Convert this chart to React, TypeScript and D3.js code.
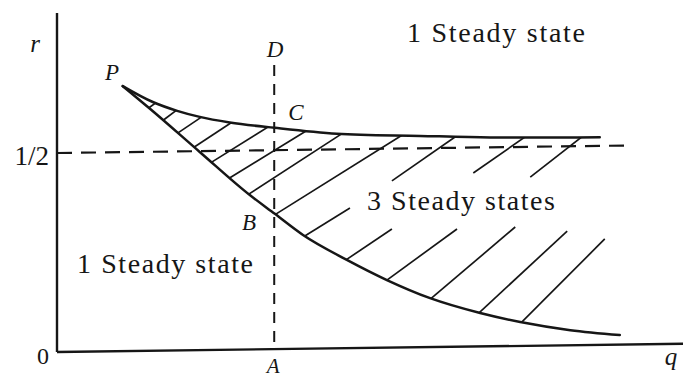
import React from "react";
import * as d3 from "d3";

const W = 683;
const H = 378;

// Boundary of the multiplicity region, upper branch starting at the cusp P
const upperQ = [1.05, 1.53, 1.92, 2.28, 2.76, 3.48, 4.47, 5.8, 6.92, 8.67];
const upperR = [0.666, 0.625, 0.602, 0.586, 0.571, 0.556, 0.539, 0.531, 0.525, 0.522];

// Lower branch starting at the cusp P
const lowerQ = [1.05, 1.49, 2.28, 3.08, 3.48, 3.93, 4.63, 5.27, 5.96, 6.76, 7.4, 8.2, 8.99];
const lowerR = [0.666, 0.6075, 0.498, 0.388, 0.34, 0.286, 0.222, 0.17, 0.123, 0.084, 0.06, 0.038, 0.024];

// Hatch strokes inside the 3-steady-state region: [q1, r1, q2, r2]
const hatch: [number, number, number, number][] = [
  [1.42, 0.605, 1.66, 0.632],
  [1.68, 0.577, 1.98, 0.612],
  [1.88, 0.541, 2.36, 0.591],
  [2.17, 0.508, 2.83, 0.575],
  [2.42, 0.467, 3.45, 0.566],
  [2.73, 0.429, 4.03, 0.552],
  [3.02, 0.386, 4.62, 0.546],
  [3.4, 0.33, 5.58, 0.54],
  [3.9, 0.278, 4.68, 0.352],
  [4.54, 0.214, 5.35, 0.298],
  [5.21, 0.163, 6.39, 0.296],
  [5.93, 0.116, 7.32, 0.299],
  [6.69, 0.077, 8.15, 0.287],
  [7.36, 0.05, 8.75, 0.266],
  [5.35, 0.419, 6.45, 0.537],
  [6.65, 0.436, 7.57, 0.535],
  [7.56, 0.424, 8.44, 0.53],
];

// Reference levels
const rHalf = 0.5;
const qA = 3.47;
const rTicks = [0, 0.5];
const rTickLabels = ["0", "1/2"];

const qMax = 10;
const rMax = 0.852;
const dashRight = 9.2;
const dashTop = 0.714;

const serif = "'Liberation Serif', 'Times New Roman', serif";
const ink = "#161616";

export default function App() {
  const x = d3.scaleLinear().domain([0, 10]).range([57, 683]);
  const y = d3.scaleLinear().domain([0, 1]).range([352, -46]);

  const line = d3
    .line<[number, number]>()
    .x((d) => x(d[0]))
    .y((d) => y(d[1]))
    .curve(d3.curveMonotoneX);

  const upperPts = upperQ.map((q, i) => [q, upperR[i]] as [number, number]);
  const lowerPts = lowerQ.map((q, i) => [q, lowerR[i]] as [number, number]);
  const upperD = line(upperPts) || "";
  const lowerD = line(lowerPts) || "";
  const lowerRevD = line(lowerPts.slice().reverse()) || "";
  const regionD = upperD + "L" + lowerRevD.slice(1) + "Z";

  // the printed frame is very slightly sheared
  const ox = x(0);
  const oy = y(0);
  const frame = `translate(${ox},${oy}) skewY(-0.75) translate(${-ox},${-oy})`;

  return (
    <svg
      width={W}
      height={H}
      viewBox={`0 0 ${W} ${H}`}
      style={{ position: "absolute", left: 0, top: 0, background: "#fff" }}
    >
      <rect width={W} height={H} fill="#fff" />
      <defs>
        <clipPath id="region" clipPathUnits="userSpaceOnUse">
          <path d={regionD} transform={frame} />
        </clipPath>
      </defs>
      <g transform={frame}>
        {/* axes */}
        <line x1={x(0)} y1={y(0)} x2={x(0)} y2={y(rMax)} stroke={ink} strokeWidth={2.4} />
        <line x1={x(0)} y1={y(0)} x2={x(qMax)} y2={y(0)} stroke={ink} strokeWidth={2.4} />

        {/* r = 1/2 and q = A guides */}
        <line
          x1={x(0)}
          y1={y(rHalf)}
          x2={x(dashRight)}
          y2={y(rHalf)}
          stroke={ink}
          strokeWidth={2.2}
          strokeDasharray="15 9"
        />
        <line
          x1={x(qA)}
          y1={y(dashTop)}
          x2={x(qA)}
          y2={y(0)}
          stroke={ink}
          strokeWidth={2}
          strokeDasharray="11 8"
        />
      </g>

      {/* hatching, kept between the two branches */}
      <g clipPath="url(#region)">
        <g transform={frame}>
          {hatch.map((s, i) => (
            <line
              key={i}
              x1={x(s[0])}
              y1={y(s[1])}
              x2={x(s[2])}
              y2={y(s[3])}
              stroke={ink}
              strokeWidth={1.7}
            />
          ))}
        </g>
      </g>

      <g transform={frame} fill="none" stroke={ink} strokeLinecap="round">
        <path d={upperD} strokeWidth={2.5} />
        <path d={lowerD} strokeWidth={2.5} />
      </g>

      {/* tick labels */}
      <g fontFamily={serif} fill={ink}>
        {rTicks.map((r, i) => (
          <text key={r} x={49} y={y(r) + 12} fontSize={r === 0 ? 24 : 27} textAnchor="end">
            {rTickLabels[i]}
          </text>
        ))}
        <text x={x(qA) - 1} y={373} fontSize={21} fontStyle="italic" textAnchor="middle">
          A
        </text>
      </g>

      {/* axis names and point names */}
      <g fontFamily={serif} fontStyle="italic" fill={ink} textAnchor="middle">
        <text x={35} y={52} fontSize={25}>r</text>
        <text x={671} y={365} fontSize={25}>q</text>
        <text x={112} y={80} fontSize={23}>P</text>
        <text x={275} y={57} fontSize={23}>D</text>
        <text x={296} y={120} fontSize={23}>C</text>
        <text x={249} y={230} fontSize={23}>B</text>
      </g>

      {/* region captions */}
      <g fontFamily={serif} fill={ink} fontSize={28}>
        <text x={407} y={42} textLength={178} lengthAdjust="spacing">
          1 Steady state
        </text>
        <text x={77} y={273} textLength={176} lengthAdjust="spacing">
          1 Steady state
        </text>
        <text x={367} y={210} textLength={188} lengthAdjust="spacing">
          3 Steady states
        </text>
      </g>
    </svg>
  );
}
